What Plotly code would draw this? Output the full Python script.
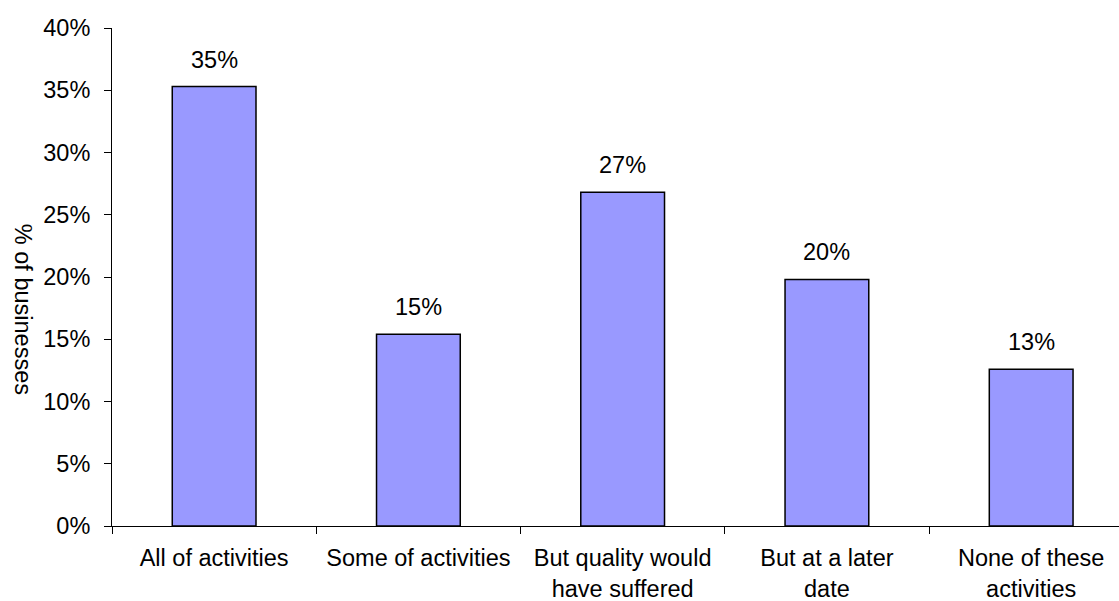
import plotly.graph_objects as go

categories = ["All of activities", "Some of activities", "But quality would<br>have suffered",
              "But at a later<br>date", "None of these<br>activities"]
values = [35.3, 15.4, 26.8, 19.8, 12.6]
y_ticks = [0, 5, 10, 15, 20, 25, 30, 35, 40]
y_title = "% of businesses"

FONT = "Liberation Sans, Arial, sans-serif"
FS = 23.5

fig = go.Figure()
fig.add_trace(go.Bar(
    x=categories, y=values,
    marker=dict(color="#9999FF", line=dict(color="black", width=1.5)),
    width=0.41,
    hoverinfo="skip",
))

for c, v in zip(categories, values):
    fig.add_annotation(x=c, y=v, xref="x", yref="y", text=f"{v:.0f}%",
                       showarrow=False, yanchor="bottom", yshift=12,
                       font=dict(family=FONT, size=FS, color="black"))

fig.add_annotation(xref="paper", yref="paper", x=0, y=0.436, xshift=-89,
                   text=y_title, textangle=90, showarrow=False,
                   xanchor="center", yanchor="middle",
                   font=dict(family=FONT, size=FS, color="black"))

fig.update_layout(
    width=1119, height=601,
    margin=dict(l=112, r=0, t=28, b=75, autoexpand=False),
    plot_bgcolor="white", paper_bgcolor="white",
    showlegend=False,
    font=dict(family=FONT, size=FS, color="black"),
    xaxis=dict(type="category", range=[-0.5, 4.43], showline=True, linecolor="black",
               linewidth=1, ticks="outside", tickson="boundaries", ticklen=7,
               tickcolor="black", showgrid=False, zeroline=False,
               ticklabelstandoff=11, automargin=False,
               tickfont=dict(family=FONT, size=FS, color="black")),
    yaxis=dict(range=[0, 40], tickvals=y_ticks, ticktext=[f"{t}%" for t in y_ticks],
               showline=True, linecolor="black", linewidth=1, ticks="outside",
               ticklen=7, tickcolor="black", showgrid=False, zeroline=False,
               ticklabelstandoff=9, automargin=False,
               tickfont=dict(family=FONT, size=FS, color="black")),
)

fig.write_html("out.html")
